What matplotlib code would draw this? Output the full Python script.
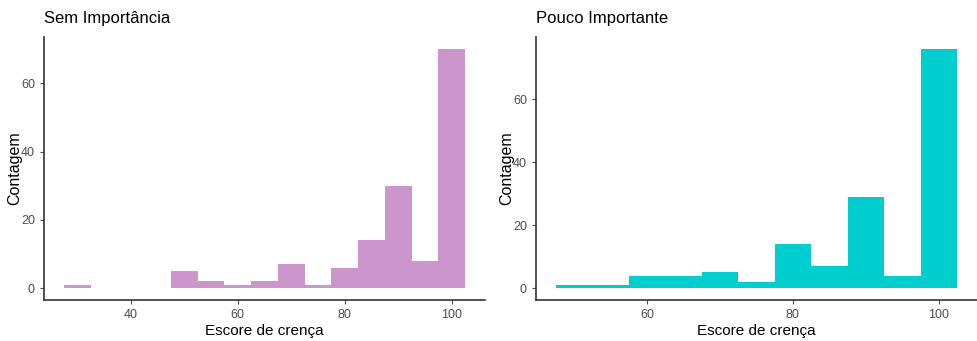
import matplotlib
matplotlib.use('Agg')
import matplotlib.pyplot as plt

plt.rcParams['font.family'] = ['Liberation Sans', 'DejaVu Sans']

# bin centres (width 5) and counts for each group
bins_sem = [30, 35, 40, 45, 50, 55, 60, 65, 70, 75, 80, 85, 90, 95, 100]
counts_sem = [1, 0, 0, 0, 5, 2, 1, 2, 7, 1, 6, 14, 30, 8, 70]

bins_pouco = [50, 55, 60, 65, 70, 75, 80, 85, 90, 95, 100]
counts_pouco = [1, 1, 4, 4, 5, 2, 14, 7, 29, 4, 76]

bin_width = 5


def panel(ax, centres, counts, fill, title, xticks):
    ax.bar(centres, counts, width=bin_width, color=fill, linewidth=0)
    lo = centres[0] - bin_width / 2
    hi = centres[-1] + bin_width / 2
    pad = (hi - lo) * 0.05
    ax.set_xlim(lo - pad, hi + pad)
    top = max(counts)
    ax.set_ylim(-top * 0.05, top * 1.05)
    ax.set_xticks(xticks)
    ax.set_yticks([0, 20, 40, 60])
    for s in ['top', 'right']:
        ax.spines[s].set_visible(False)
    for s in ['left', 'bottom']:
        ax.spines[s].set_color('#333333')
        ax.spines[s].set_linewidth(1.2)
    ax.tick_params(colors='#4d4d4d', labelsize=9, length=3, width=0.8)
    ax.set_xlabel('Escore de crença', fontsize=11, labelpad=2)
    ax.set_ylabel('Contagem', fontsize=11.5, labelpad=-1)
    ax.set_title(title, loc='left', fontsize=12, pad=10)


fig = plt.figure(figsize=(9.78, 3.41), dpi=100)
ax1 = fig.add_axes([0.045, 0.12, 0.451, 0.771])
ax2 = fig.add_axes([0.548, 0.12, 0.451, 0.771])

panel(ax1, bins_sem, counts_sem, '#cc96cc', 'Sem Importância', [40, 60, 80, 100])
panel(ax2, bins_pouco, counts_pouco, '#00cdcd', 'Pouco Importante', [60, 80, 100])

fig.savefig('out.png', dpi=100)
